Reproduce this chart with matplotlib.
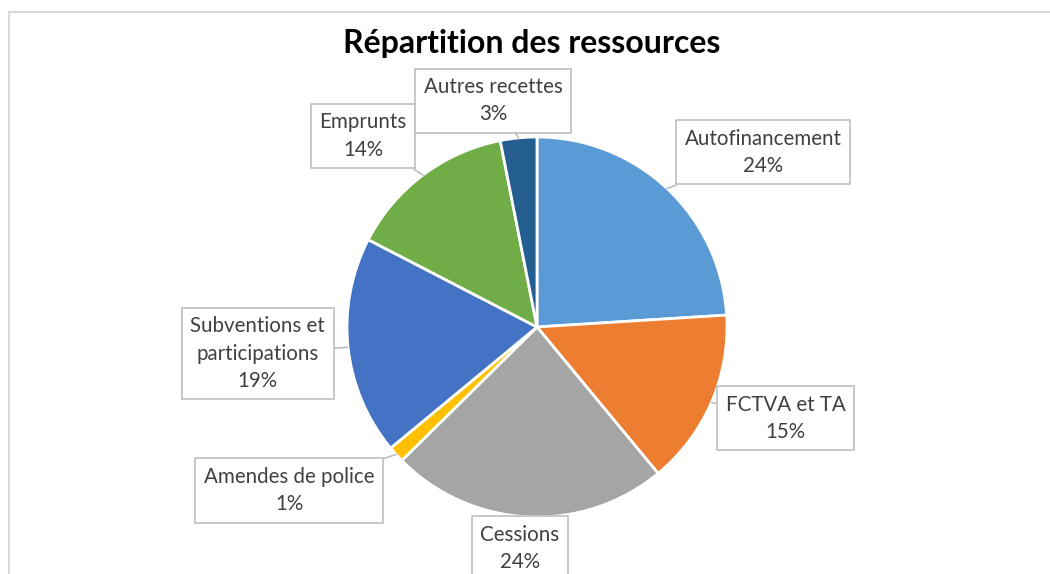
import numpy as np
import matplotlib.pyplot as plt
from matplotlib.patches import Rectangle

# donnees (en %)
categories = ['Autofinancement', 'FCTVA et TA', 'Cessions', 'Amendes de police',
              'Subventions et\nparticipations', 'Emprunts', 'Autres recettes']
valeurs = [24.0, 15.0, 23.6, 1.4, 18.6, 14.3, 3.1]
couleurs = ['#5B9BD5', '#ED7D31', '#A5A5A5', '#FFC000', '#4472C4', '#70AD47', '#255E91']

# position des etiquettes (en rayons, centre du camembert = 0,0)
pos_etiquettes = [(1.19, 0.92), (1.31, -0.48), (-0.09, -1.165), (-1.305, -0.86),
                  (-1.47, -0.14), (-0.915, 1.005), (-0.23, 1.19)]

W, H = 1050, 574
cx, cy, R = 537, 327, 190

fig = plt.figure(figsize=(W / 100, H / 100), dpi=100)
ax = fig.add_axes([0, 0, 1, 1])

# cadre gris du graphique
fig.patches.append(Rectangle((9 / W, -0.1), 1.2, (H - 12) / H + 0.1, transform=fig.transFigure,
                             fill=False, edgecolor='#D9D9D9', linewidth=1.5))

wedges, _ = ax.pie(valeurs, colors=couleurs, startangle=90, counterclock=False,
                   radius=1, center=(0, 0), frame=True,
                   wedgeprops=dict(edgecolor='white', linewidth=2))
ax.set_xlim(-cx / R, (W - cx) / R)
ax.set_ylim(-(H - cy) / R, cy / R)
ax.set_aspect('auto')
ax.axis('off')

total = sum(valeurs)
for w, cat, v, (lx, ly) in zip(wedges, categories, valeurs, pos_etiquettes):
    mid = np.deg2rad((w.theta1 + w.theta2) / 2)
    pt = (np.cos(mid), np.sin(mid))
    txt = f"{cat}\n{round(v / total * 100):.0f}%"
    ax.annotate(txt, xy=pt, xytext=(lx, ly), ha='center', va='center',
                fontsize=14.8, color='#404040', family='Lato', linespacing=1.45,
                bbox=dict(boxstyle='square,pad=0.42', fc='white', ec='#BFBFBF', lw=1.2),
                arrowprops=dict(arrowstyle='-', color='#BFBFBF', lw=1.2,
                                shrinkA=0, shrinkB=0))

ax.text(-0.026, 1.49, 'Répartition des ressources', ha='center', va='center',
        fontsize=23, fontweight='bold', family='Lato', color='black')

plt.savefig('out.png', dpi=100)
plt.close()
